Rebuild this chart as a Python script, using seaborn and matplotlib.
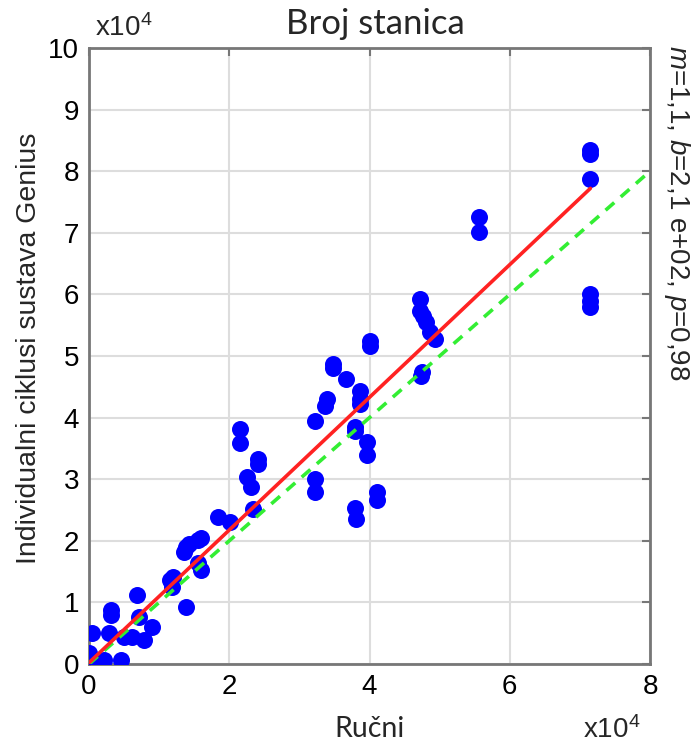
import numpy as np
import pandas as pd
import matplotlib
matplotlib.use("Agg")
import matplotlib.pyplot as plt
import seaborn as sns

# Data (in units of 10^4)
manual = [0.00, 0.04, 0.00, 0.04, 0.21, 0.28, 0.31, 0.31, 0.45, 0.50,
          0.61, 0.68, 0.71, 0.78, 0.90, 1.16, 1.20, 1.18, 1.39, 1.35,
          1.38, 1.42, 1.56, 1.60, 1.56, 1.60, 1.84, 2.01, 2.26, 2.31,
          2.34, 2.15, 2.15, 2.41, 2.41, 3.22, 3.36, 3.40, 3.48, 3.48,
          3.67, 3.86, 3.87, 3.86, 3.80, 3.80, 4.01, 4.01, 3.97, 3.97,
          3.22, 3.22, 3.80, 3.81, 4.11, 4.11, 4.72, 4.72, 4.76, 4.80,
          4.86, 4.93, 4.75, 4.73, 5.56, 5.56, 7.15, 7.15, 7.15, 7.15,
          7.15, 7.15]
genius = [0.03, 0.07, 0.18, 0.50, 0.07, 0.50, 0.88, 0.80, 0.07, 0.44,
          0.44, 1.12, 0.77, 0.39, 0.60, 1.37, 1.42, 1.25, 0.93, 1.82,
          1.90, 1.94, 2.02, 2.05, 1.64, 1.53, 2.38, 2.30, 3.03, 2.87,
          2.51, 3.81, 3.58, 3.32, 3.24, 3.94, 4.19, 4.30, 4.87, 4.80,
          4.62, 4.43, 4.30, 4.22, 3.84, 3.78, 5.24, 5.16, 3.60, 3.40,
          3.00, 2.80, 2.54, 2.35, 2.80, 2.67, 5.93, 5.73, 5.65, 5.55,
          5.39, 5.28, 4.74, 4.67, 7.25, 7.02, 8.35, 8.28, 7.87, 6.00,
          5.90, 5.80]
fit_slope = 1.077
fit_intercept = 0.021
identity_x = [0, 8]
x_ticks = [0, 2, 4, 6, 8]
y_ticks = list(range(0, 11))

df = pd.DataFrame({"Ručni": manual, "Genius": genius})

sns.set_style("whitegrid")
plt.rcParams['font.family'] = ['Liberation Sans', 'DejaVu Sans']
plt.rcParams['mathtext.fontset'] = 'custom'
plt.rcParams['mathtext.it'] = 'Liberation Sans:italic'
plt.rcParams['mathtext.rm'] = 'Liberation Sans'

fig = plt.figure(figsize=(6.92, 7.45), dpi=100)
ax = fig.add_axes([89/692, 1 - 664/745, (650-89)/692, (664-48)/745])

sns.scatterplot(data=df, x="Ručni", y="Genius", ax=ax, color="#0000ff",
                s=150, linewidth=0, zorder=3, legend=False)

fx = np.array([0, max(manual)])
fit_df = pd.DataFrame({"x": fx, "y": fit_slope * fx + fit_intercept})
id_df = pd.DataFrame({"x": identity_x, "y": identity_x})
sns.lineplot(data=id_df, x="x", y="y", ax=ax, color="#33ee33", lw=2.6,
             dashes=False, zorder=4)
ax.lines[-1].set_linestyle((0, (3.2, 2.4)))
sns.lineplot(data=fit_df, x="x", y="y", ax=ax, color="#ff2222", lw=2.6,
             zorder=5)

ax.set_xlim(0, 8)
ax.set_ylim(0, 10)
ax.set_xticks(x_ticks)
ax.set_yticks(y_ticks)
ax.set_xticklabels([str(t) for t in x_ticks])
ax.set_yticklabels([str(t) for t in y_ticks])
ax.grid(True, color="#dddddd", lw=1.5)
ax.set_axisbelow(True)
for sp in ax.spines.values():
    sp.set_visible(True)
    sp.set_color("#777777")
    sp.set_linewidth(2.0)
ax.tick_params(direction="in", length=6, width=1.5, color="#777777",
               top=True, right=True, labelsize=20, pad=7,
               labelcolor="black")

ax.set_xlabel("Ručni", fontsize=20.5, family=["Lato", "DejaVu Sans"], labelpad=12)
ax.set_ylabel("Individualni ciklusi sustava Genius", fontsize=20.5)
ax.yaxis.set_label_coords(-0.083, 0.513)
ax.set_title("Broj stanica", fontsize=25, family=["Lato", "DejaVu Sans"],
             pad=10, x=0.51)

fig.text(95/692, 1 - 28/745, r"x10$^4$", fontsize=20, ha="left", va="center")
fig.text(612/692, 1 - 730/745, r"x10$^4$", fontsize=20, ha="center", va="center")
fig.text(677/692, 1 - 45/745, r"$m$=1,1, $b$=2,1 e+02, $p$=0,98", fontsize=20,
         rotation=-90, ha="center", va="top")

fig.savefig("out.png", dpi=100)
